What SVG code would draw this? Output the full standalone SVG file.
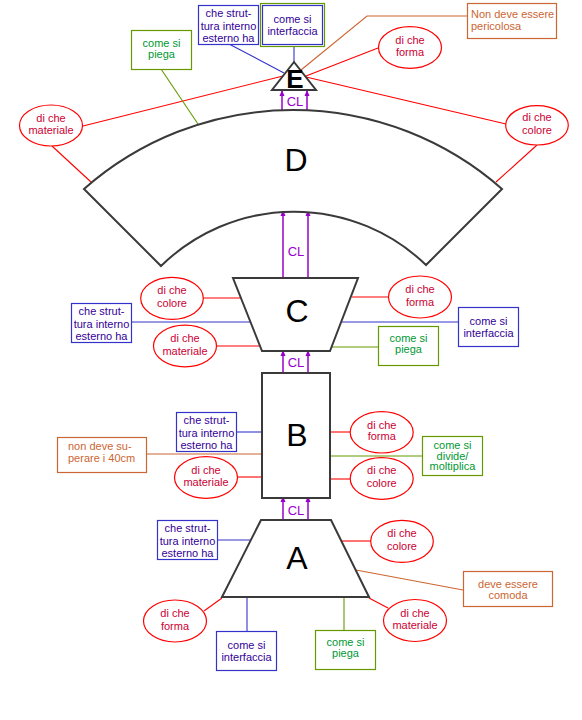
<svg xmlns="http://www.w3.org/2000/svg" width="582" height="720" viewBox="0 0 582 720">
<style>
text{font-family:"Liberation Sans",Arial,sans-serif;font-size:11px;text-anchor:middle}
.ell{fill:#fff;stroke:#ff0000;stroke-width:1.2}
.et{fill:#cc0033}
.bb{fill:#fff;stroke:#3333cc;stroke-width:1.2}
.bt{fill:#330099}
.gb{fill:#fff;stroke:#669900;stroke-width:1.2}
.gt{fill:#009933}
.ob{fill:#fff;stroke:#cc6633;stroke-width:1.2}
.ot{fill:#cc6633}
.shape{fill:#fff;stroke:#3a3a3a;stroke-width:2}
.big{fill:#000;font-size:32px}
.cl{fill:#9900cc;font-size:13px}
.r{stroke:#ff0000;stroke-width:1.1;fill:none}
.b{stroke:#3333cc;stroke-width:1.1;fill:none}
.g{stroke:#669900;stroke-width:1.1;fill:none}
.o{stroke:#cc6633;stroke-width:1.1;fill:none}
.p{stroke:#9900cc;stroke-width:1.5;fill:none;marker-end:url(#ah)}
</style>
<defs>
<marker id="ah" markerUnits="userSpaceOnUse" markerWidth="6" markerHeight="6" refX="5" refY="3" orient="auto">
<path d="M0,0.5 L6,3 L0,5.5 z" fill="#9900cc"/>
</marker>
</defs>

<g id="connectors">
<line class="r" x1="83" y1="126" x2="283" y2="76"/>
<line class="r" x1="378" y1="48" x2="306" y2="76"/>
<line class="r" x1="306" y1="77" x2="506" y2="124"/>
<polyline class="o" points="467,16 367,16 301,70"/>
<line class="b" x1="229" y1="44" x2="284" y2="73"/>
<line class="b" x1="294" y1="44" x2="294" y2="62"/>
<line class="g" x1="161" y1="69" x2="198" y2="124"/>
<line class="r" x1="52" y1="146" x2="91" y2="182"/>
<line class="r" x1="537" y1="145" x2="496" y2="182"/>
<line class="p" x1="282" y1="110" x2="282" y2="91"/>
<line class="p" x1="307" y1="110" x2="307" y2="91"/>
<line class="p" x1="283" y1="278" x2="283" y2="211"/>
<line class="p" x1="308" y1="278" x2="308" y2="211"/>
<line class="p" x1="283" y1="373" x2="283" y2="351"/>
<line class="p" x1="308" y1="373" x2="308" y2="351"/>
<line class="p" x1="283" y1="520" x2="283" y2="497"/>
<line class="p" x1="308" y1="520" x2="308" y2="497"/>
<line class="r" x1="203" y1="298" x2="241" y2="298"/>
<line class="b" x1="132" y1="322" x2="251" y2="322"/>
<line class="r" x1="217" y1="346" x2="260" y2="346"/>
<line class="r" x1="352" y1="297" x2="388" y2="297"/>
<line class="b" x1="340" y1="322" x2="458" y2="322"/>
<line class="g" x1="330" y1="347" x2="378" y2="347"/>
<line class="b" x1="237" y1="432" x2="262" y2="432"/>
<line class="o" x1="147" y1="454" x2="262" y2="454"/>
<line class="r" x1="238" y1="477" x2="262" y2="477"/>
<line class="r" x1="330" y1="432" x2="350" y2="432"/>
<line class="g" x1="330" y1="456" x2="422" y2="456"/>
<line class="r" x1="330" y1="479" x2="350" y2="479"/>
<line class="b" x1="218" y1="540" x2="251" y2="540"/>
<line class="r" x1="204" y1="611" x2="222" y2="598"/>
<line class="b" x1="247" y1="597" x2="247" y2="631"/>
<line class="r" x1="342" y1="541" x2="371" y2="541"/>
<line class="o" x1="356" y1="570" x2="463" y2="590"/>
<line class="r" x1="369" y1="598" x2="388" y2="608"/>
<line class="g" x1="344" y1="597" x2="344" y2="630"/>
<text class="cl" x="295" y="106">CL</text>
<text class="cl" x="296" y="256">CL</text>
<text class="cl" x="296" y="367">CL</text>
<text class="cl" x="296" y="515">CL</text>
</g>

<g id="nodeD">
<path class="shape" d="M84,189 A316,316 0 0 1 502,189 L426,265 A190,190 0 0 0 161,266 Z"/>
<text class="big" x="296" y="171">D</text>
</g>
<g id="nodeE">
<path class="shape" stroke-width="1.5" d="M294,62 L316,90 L272,90 Z"/>
<text class="big" x="295" y="88" style="font-size:26px;font-weight:bold">E</text>
</g>
<g id="nodeC">
<path class="shape" d="M233,278 L358,278 L330,351 L262,351 Z"/>
<text class="big" x="297" y="322">C</text>
</g>
<g id="nodeB">
<rect class="shape" x="262" y="373" width="68" height="125"/>
<text class="big" x="297" y="446">B</text>
</g>
<g id="nodeA">
<path class="shape" d="M261,520 L331,520 L369,597 L222,597 Z"/>
<text class="big" x="297" y="569">A</text>
</g>

<g id="e-struttura">
<rect class="bb" x="198.5" y="5.5" width="60" height="39"/>
<text class="bt" x="228.5" y="16.5">che strut-</text>
<text class="bt" x="228.5" y="29.5">tura interno</text>
<text class="bt" x="228.5" y="42">esterno ha</text>
</g>
<g id="e-interfaccia">
<rect class="gb" x="260.5" y="3.5" width="64" height="43"/>
<rect class="bb" x="262.5" y="5.5" width="60" height="39"/>
<text class="bt" x="292.5" y="23">come si</text>
<text class="bt" x="292.5" y="35">interfaccia</text>
</g>
<g id="e-pericolosa">
<rect class="ob" x="467.5" y="3.5" width="89" height="35"/>
<text class="ot" x="471" y="17.5" style="text-anchor:start">Non deve essere</text>
<text class="ot" x="471" y="30" style="text-anchor:start">pericolosa</text>
</g>
<g id="e-piega">
<rect class="gb" x="131.5" y="30.5" width="60" height="39"/>
<text class="gt" x="161.5" y="46.5">come si</text>
<text class="gt" x="161.5" y="57.5">piega</text>
</g>
<g id="e-forma">
<ellipse class="ell" cx="410" cy="47.5" rx="31.5" ry="20.8"/>
<text class="et" x="410" y="44">di che</text>
<text class="et" x="410" y="55.5">forma</text>
</g>
<g id="d-materiale">
<ellipse class="ell" cx="51" cy="125.5" rx="31.5" ry="20.5"/>
<text class="et" x="51" y="121.5">di che</text>
<text class="et" x="51" y="134">materiale</text>
</g>
<g id="d-colore">
<ellipse class="ell" cx="537" cy="125.3" rx="31.3" ry="19.7"/>
<text class="et" x="537" y="121">di che</text>
<text class="et" x="537" y="134">colore</text>
</g>

<g id="c-colore">
<ellipse class="ell" cx="172" cy="298.3" rx="31.3" ry="21"/>
<text class="et" x="172" y="294">di che</text>
<text class="et" x="172" y="307">colore</text>
</g>
<g id="c-struttura">
<rect class="bb" x="71.5" y="303.5" width="60" height="39"/>
<text class="bt" x="101.5" y="314.5">che strut-</text>
<text class="bt" x="101.5" y="327.5">tura interno</text>
<text class="bt" x="101.5" y="340">esterno ha</text>
</g>
<g id="c-materiale">
<ellipse class="ell" cx="185" cy="346" rx="31.5" ry="20.8"/>
<text class="et" x="185" y="342">di che</text>
<text class="et" x="185" y="354.5">materiale</text>
</g>
<g id="c-forma">
<ellipse class="ell" cx="420" cy="297" rx="31.5" ry="21"/>
<text class="et" x="420" y="293">di che</text>
<text class="et" x="420" y="305.5">forma</text>
</g>
<g id="c-interfaccia">
<rect class="bb" x="458.5" y="307.5" width="60" height="39"/>
<text class="bt" x="488.5" y="325">come si</text>
<text class="bt" x="488.5" y="336.5">interfaccia</text>
</g>
<g id="c-piega">
<rect class="gb" x="378.5" y="326.5" width="60" height="39"/>
<text class="gt" x="408.5" y="342">come si</text>
<text class="gt" x="408.5" y="353">piega</text>
</g>

<g id="b-struttura">
<rect class="bb" x="176.5" y="412.5" width="60" height="39"/>
<text class="bt" x="206.5" y="423.5">che strut-</text>
<text class="bt" x="206.5" y="436.5">tura interno</text>
<text class="bt" x="206.5" y="449">esterno ha</text>
</g>
<g id="b-40cm">
<rect class="ob" x="57.5" y="437.5" width="89" height="35"/>
<text class="ot" x="68" y="449.5" style="text-anchor:start">non deve su-</text>
<text class="ot" x="68" y="462" style="text-anchor:start">perare i 40cm</text>
</g>
<g id="b-materiale">
<ellipse class="ell" cx="206" cy="477.5" rx="31.5" ry="20.8"/>
<text class="et" x="206" y="473.5">di che</text>
<text class="et" x="206" y="486">materiale</text>
</g>
<g id="b-forma">
<ellipse class="ell" cx="381.7" cy="432.3" rx="31.5" ry="20.7"/>
<text class="et" x="381.7" y="428.5">di che</text>
<text class="et" x="381.7" y="440">forma</text>
</g>
<g id="b-divide">
<rect class="gb" x="422.5" y="436.5" width="60" height="39"/>
<text class="gt" x="452.5" y="449">come si</text>
<text class="gt" x="452.5" y="459.5">divide/</text>
<text class="gt" x="452.5" y="470">moltiplica</text>
</g>
<g id="b-colore">
<ellipse class="ell" cx="381.7" cy="478.5" rx="31.5" ry="20.8"/>
<text class="et" x="381.7" y="474">di che</text>
<text class="et" x="381.7" y="487">colore</text>
</g>

<g id="a-struttura">
<rect class="bb" x="157.5" y="520.5" width="60" height="39"/>
<text class="bt" x="187.5" y="531.5">che strut-</text>
<text class="bt" x="187.5" y="544.5">tura interno</text>
<text class="bt" x="187.5" y="557">esterno ha</text>
</g>
<g id="a-colore">
<ellipse class="ell" cx="402" cy="541.3" rx="31.3" ry="21"/>
<text class="et" x="402" y="537">di che</text>
<text class="et" x="402" y="550">colore</text>
</g>
<g id="a-comoda">
<rect class="ob" x="463.5" y="571.5" width="89" height="35"/>
<text class="ot" x="508" y="587.5">deve essere</text>
<text class="ot" x="508" y="599">comoda</text>
</g>
<g id="a-forma">
<ellipse class="ell" cx="175" cy="621" rx="31.5" ry="21"/>
<text class="et" x="175" y="617">di che</text>
<text class="et" x="175" y="629.5">forma</text>
</g>
<g id="a-interfaccia">
<rect class="bb" x="216.5" y="631.5" width="60" height="39"/>
<text class="bt" x="246.5" y="649">come si</text>
<text class="bt" x="246.5" y="660.5">interfaccia</text>
</g>
<g id="a-piega">
<rect class="gb" x="315.5" y="630.5" width="60" height="39"/>
<text class="gt" x="345.5" y="646">come si</text>
<text class="gt" x="345.5" y="657">piega</text>
</g>
<g id="a-materiale">
<ellipse class="ell" cx="415" cy="620.5" rx="31.5" ry="21"/>
<text class="et" x="415" y="616.5">di che</text>
<text class="et" x="415" y="629">materiale</text>
</g>
</svg>
